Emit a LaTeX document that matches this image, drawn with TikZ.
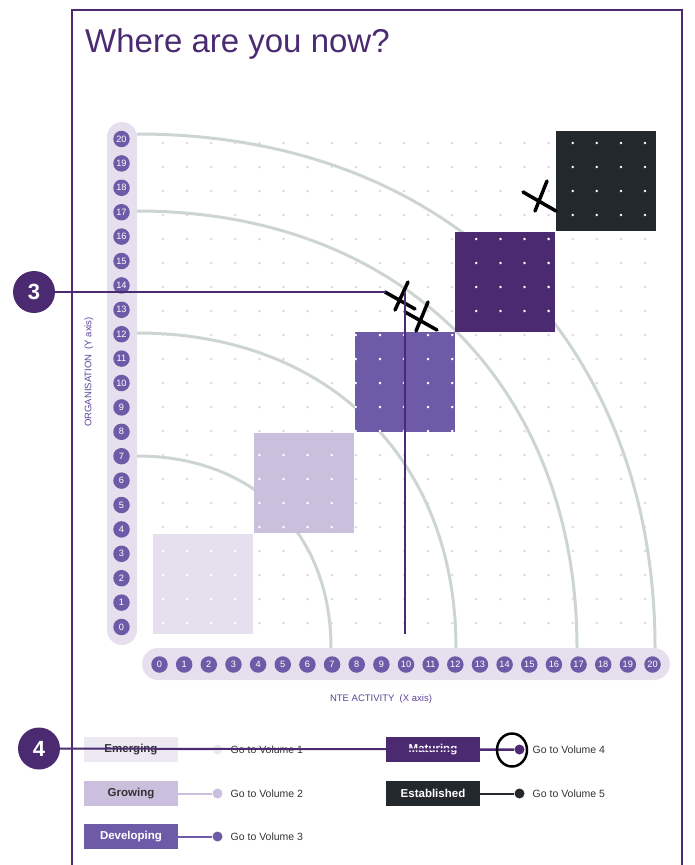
\documentclass[tikz,border=0pt]{standalone}
\usepackage{fontspec}
\setmainfont{Liberation Sans}
\usetikzlibrary{calc}
\definecolor{ntedark}{HTML}{4B2A72}
\definecolor{ntemid}{HTML}{6E5BA8}
\definecolor{ntelight}{HTML}{CBBFDE}
\definecolor{ntepale}{HTML}{E6E0EE}
\definecolor{ntecharcoal}{HTML}{23282C}
\definecolor{ntearc}{HTML}{CDD5D4}
\definecolor{ntedot}{HTML}{DCD6EA}
\definecolor{ntelabel}{HTML}{5B4397}
\definecolor{ntetext}{HTML}{333333}
\tikzset{
  axisnum/.style={circle, fill=ntemid, text=white, inner sep=0pt, minimum size=16.5pt,
    font=\fontsize{9.2}{10}\selectfont},
  callout/.style={circle, fill=ntedark, text=white, inner sep=0pt, minimum size=42pt,
    font=\fontsize{22}{24}\selectfont\bfseries},
  legendbox/.style={minimum width=94pt, minimum height=25pt, inner sep=0pt,
    font=\fontsize{11.5}{12}\selectfont\bfseries},
  legenddot/.style={circle, inner sep=0pt, minimum size=10pt},
  golink/.style={right, inner sep=0pt, text=ntetext, font=\fontsize{10.5}{12}\selectfont},
  scribble/.style={black, line width=3.5pt, line cap=round},
}

\begin{document}
\begin{tikzpicture}[x=1pt, y=-1pt]
        \useasboundingbox (0,0) rectangle (694,865);
        % frame and title
        \draw[ntedark, line width=2pt] (72,865) -- (72,10) -- (682,10) -- (682,865);
        \node[anchor=base west, inner sep=0pt, text=ntedark, font=\fontsize{33}{36}\selectfont]
          (title) at (85,52) {Where are you now?};
        % axis bars
        \fill[ntepale, rounded corners=15pt] (107,122) rectangle (137,645);
        \fill[ntepale, rounded corners=16pt] (142,648) rectangle (670,680);
        % arcs
        \foreach \ys/\xe in {456/331, 333/456, 211/577, 134/655} {
          \draw[ntearc, line width=3pt] (137,\ys) .. controls ({137+0.6*(\xe-137)},\ys)
            and (\xe,{648-0.6*(648-\ys)}) .. (\xe,648);
        }
        % dot grid
        \foreach \i in {0,...,20}
          \foreach \j in {0,...,20}
            \fill[ntedot] ({163+24.1*\i},{623-24*\j}) circle (1.4pt);
        % stage blocks
        \foreach \bx/\by/\bcol in {153/534/ntepale, 254/433/ntelight, 355/332/ntemid,
                                   455/232/ntedark, 556/131/ntecharcoal}
          \fill[\bcol] (\bx,\by) rectangle ++(100,100);
        \begin{scope}
          \clip (153,534) rectangle ++(100,100) (254,433) rectangle ++(100,100)
                (355,332) rectangle ++(100,100) (455,232) rectangle ++(100,100)
                (556,131) rectangle ++(100,100);
          \foreach \i in {0,...,20}
            \foreach \j in {0,...,20}
              \fill[white] ({163+24.1*\i},{623-24*\j}) circle (1.4pt);
        \end{scope}
        % axis numbers
        \foreach \n in {0,...,20} {
          \node[axisnum] (y\n) at (121.5,{627-24.4*\n}) {\n};
          \node[axisnum] (x\n) at ({159.5+24.65*\n},664.5) {\n};
        }
        \node[rotate=90, text=ntelabel, font=\fontsize{9.5}{10}\selectfont]
          (ylabel) at (89,372) {ORGANISATION\ \ (Y axis)};
        \node[text=ntelabel, font=\fontsize{9.5}{10}\selectfont]
          (xlabel) at (381,699) {NTE ACTIVITY\ \ (X axis)};
        % pen marks
        \draw[scribble] (385,292) -- (415,309) (408,282) -- (395,310);
        \draw[scribble] (405,312) -- (437,330) (428,302) -- (416,331);
        \draw[scribble] (523,192) -- (556,211) (547,181) -- (535,211);
        % callout 3
        \node[callout] (three) at (34,292) {3};
        \coordinate (hend) at (386,292);
        \coordinate (vtop) at (404.5,292);
        \coordinate (vbot) at (404.5,634);
        \draw[ntedark, line width=2pt] (three) -- (hend);
        \draw[ntedark, line width=2pt] (vtop) -- (vbot);
        % legend
        \foreach \k/\lx/\ly/\bcol/\tcol/\lbl in {
            1/131/749.5/ntepale!70/ntetext/Emerging, 2/131/793.5/ntelight/ntetext/Growing,
            3/131/836.5/ntemid/white/Developing, 4/433/749.5/ntedark/white/Maturing,
            5/433/793.5/ntecharcoal/white/Established} {
          \node[legendbox, fill=\bcol, text=\tcol] (stage\k) at (\lx,\ly) {\lbl};
          \node[legenddot, fill=\bcol] (dot\k) at (\lx+86.5,\ly) {};
          \node[golink] (go\k) at (\lx+99.5,\ly) {Go to Volume \k};
          \draw[\bcol, line width=2pt] (stage\k) -- (dot\k);
        }
        % callout 4
        \node[callout] (four) at (39,748.5) {4};
        \draw[ntedark, line width=2pt] (four) -- (dot4);
        \draw[black, line width=2.5pt] (512,750) ellipse (15pt and 16.5pt);
      \end{tikzpicture}
\end{document}
